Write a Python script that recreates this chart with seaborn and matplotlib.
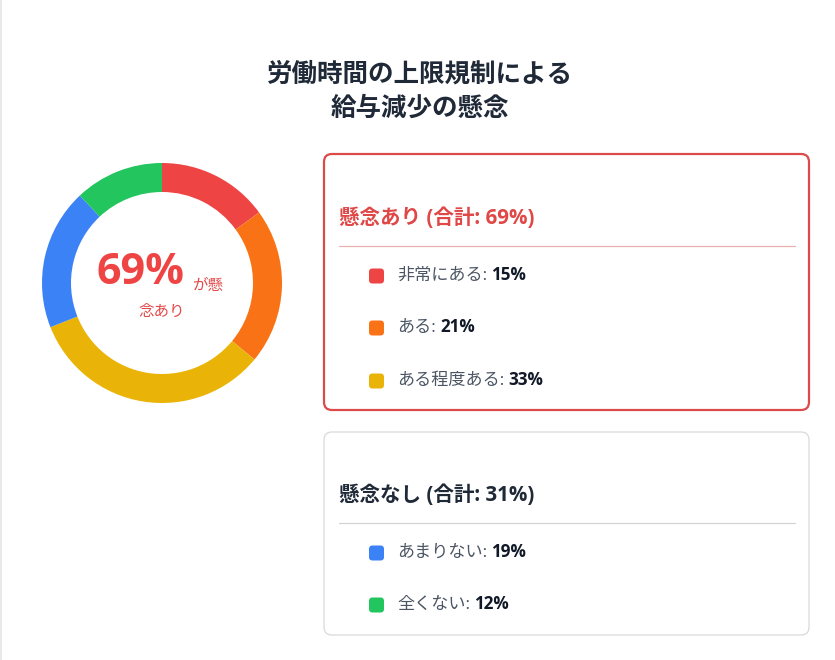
import matplotlib
matplotlib.use("Agg")
import matplotlib.pyplot as plt
from matplotlib.patches import FancyBboxPatch
import seaborn as sns

# ---- data ----
title_lines = ["労働時間の上限規制による", "給与減少の懸念"]
categories = ["非常にある", "ある", "ある程度ある", "あまりない", "全くない"]
values = [15, 21, 33, 19, 12]
colors = ["#EF4444", "#F97316", "#EAB308", "#3B82F6", "#22C55E"]
group_titles = ["懸念あり (合計: 69%)", "懸念なし (合計: 31%)"]
group_members = [[0, 1, 2], [3, 4]]
center_big = "69%"
center_small = ["が懸", "念あり"]

sns.set_theme(style="white")
plt.rcParams['font.family'] = ['Open Sans', 'Noto Sans CJK JP', 'DejaVu Sans']

W, H = 835, 660
fig = plt.figure(figsize=(W / 100, H / 100), dpi=100)
fig.patch.set_facecolor("white")

ov = fig.add_axes([0, 0, 1, 1])
ov.set_xlim(0, W)
ov.set_ylim(H, 0)
ov.axis("off")

# faint outer card edge
ov.plot([1, 1], [0, H], color="#e5e5e5", lw=1.2)

# title
ov.text(420, 74, title_lines[0], ha="center", va="center", fontsize=18.4,
        fontweight="bold", color="#1f2937")
ov.text(420, 108, title_lines[1], ha="center", va="center", fontsize=18.4,
        fontweight="bold", color="#1f2937")

# donut
cx, cy, r = 162, 283, 120
pax = fig.add_axes([(cx - r) / W, 1 - (cy + r) / H, 2 * r / W, 2 * r / H])
pax.pie(values, colors=colors, startangle=90, counterclock=False,
        wedgeprops=dict(width=29 / 120, linewidth=0), radius=1)
pax.set_xlim(-1, 1)
pax.set_ylim(-1, 1)
pax.set_aspect("equal")
pax.axis("off")

red = "#EF4444"
big = ov.text(96, 284, center_big, ha="left", va="baseline", fontsize=31,
              fontweight="bold", color=red)
ov.annotate(center_small[0], xy=(1, 0), xycoords=big, xytext=(6, 0),
            textcoords="offset points", ha="left", va="bottom",
            fontsize=11.2, color="#e34a4a")
ov.text(162, 316, center_small[1], ha="center", va="baseline", fontsize=11.2,
        color="#e34a4a")

# legend boxes
boxes = [
    dict(top=154, bottom=410, edge="#dc4a4a", lw=1.6, tcolor="#e04848",
         title_y=218, sep_y=245.5, sep_c="#eab0b0", rows=[276, 328, 381]),
    dict(top=432, bottom=635, edge="#d9d9d9", lw=0.9, tcolor="#1f2937",
         title_y=495, sep_y=522.5, sep_c="#d4d4d4", rows=[553, 605]),
]
left, right = 324, 809
for g, b in enumerate(boxes):
    ov.add_patch(FancyBboxPatch((left, b["top"]), right - left, b["bottom"] - b["top"],
                                boxstyle="round,pad=0,rounding_size=8",
                                fc="white", ec=b["edge"], lw=b["lw"]))
    ov.text(339, b["title_y"], group_titles[g], ha="left", va="center",
            fontsize=14.8, fontweight="bold", color=b["tcolor"])
    ov.plot([339, 795], [b["sep_y"], b["sep_y"]], color=b["sep_c"], lw=0.9)
    for idx, yy in zip(group_members[g], b["rows"]):
        ov.add_patch(FancyBboxPatch((369, yy - 7.5), 15, 15,
                                    boxstyle="round,pad=0,rounding_size=3.5",
                                    fc=colors[idx], ec="none"))
        t = ov.text(397, yy, categories[idx] + ":", ha="left", va="center",
                    fontsize=12.3, color="#4b5563")
        ov.annotate(f"{values[idx]}%", xy=(1, 0), xycoords=t,
                    xytext=(3, 0), textcoords="offset points",
                    ha="left", va="bottom", fontsize=12.3, fontweight="bold",
                    color="#111827")

fig.savefig("out.png", dpi=100, facecolor="white")
